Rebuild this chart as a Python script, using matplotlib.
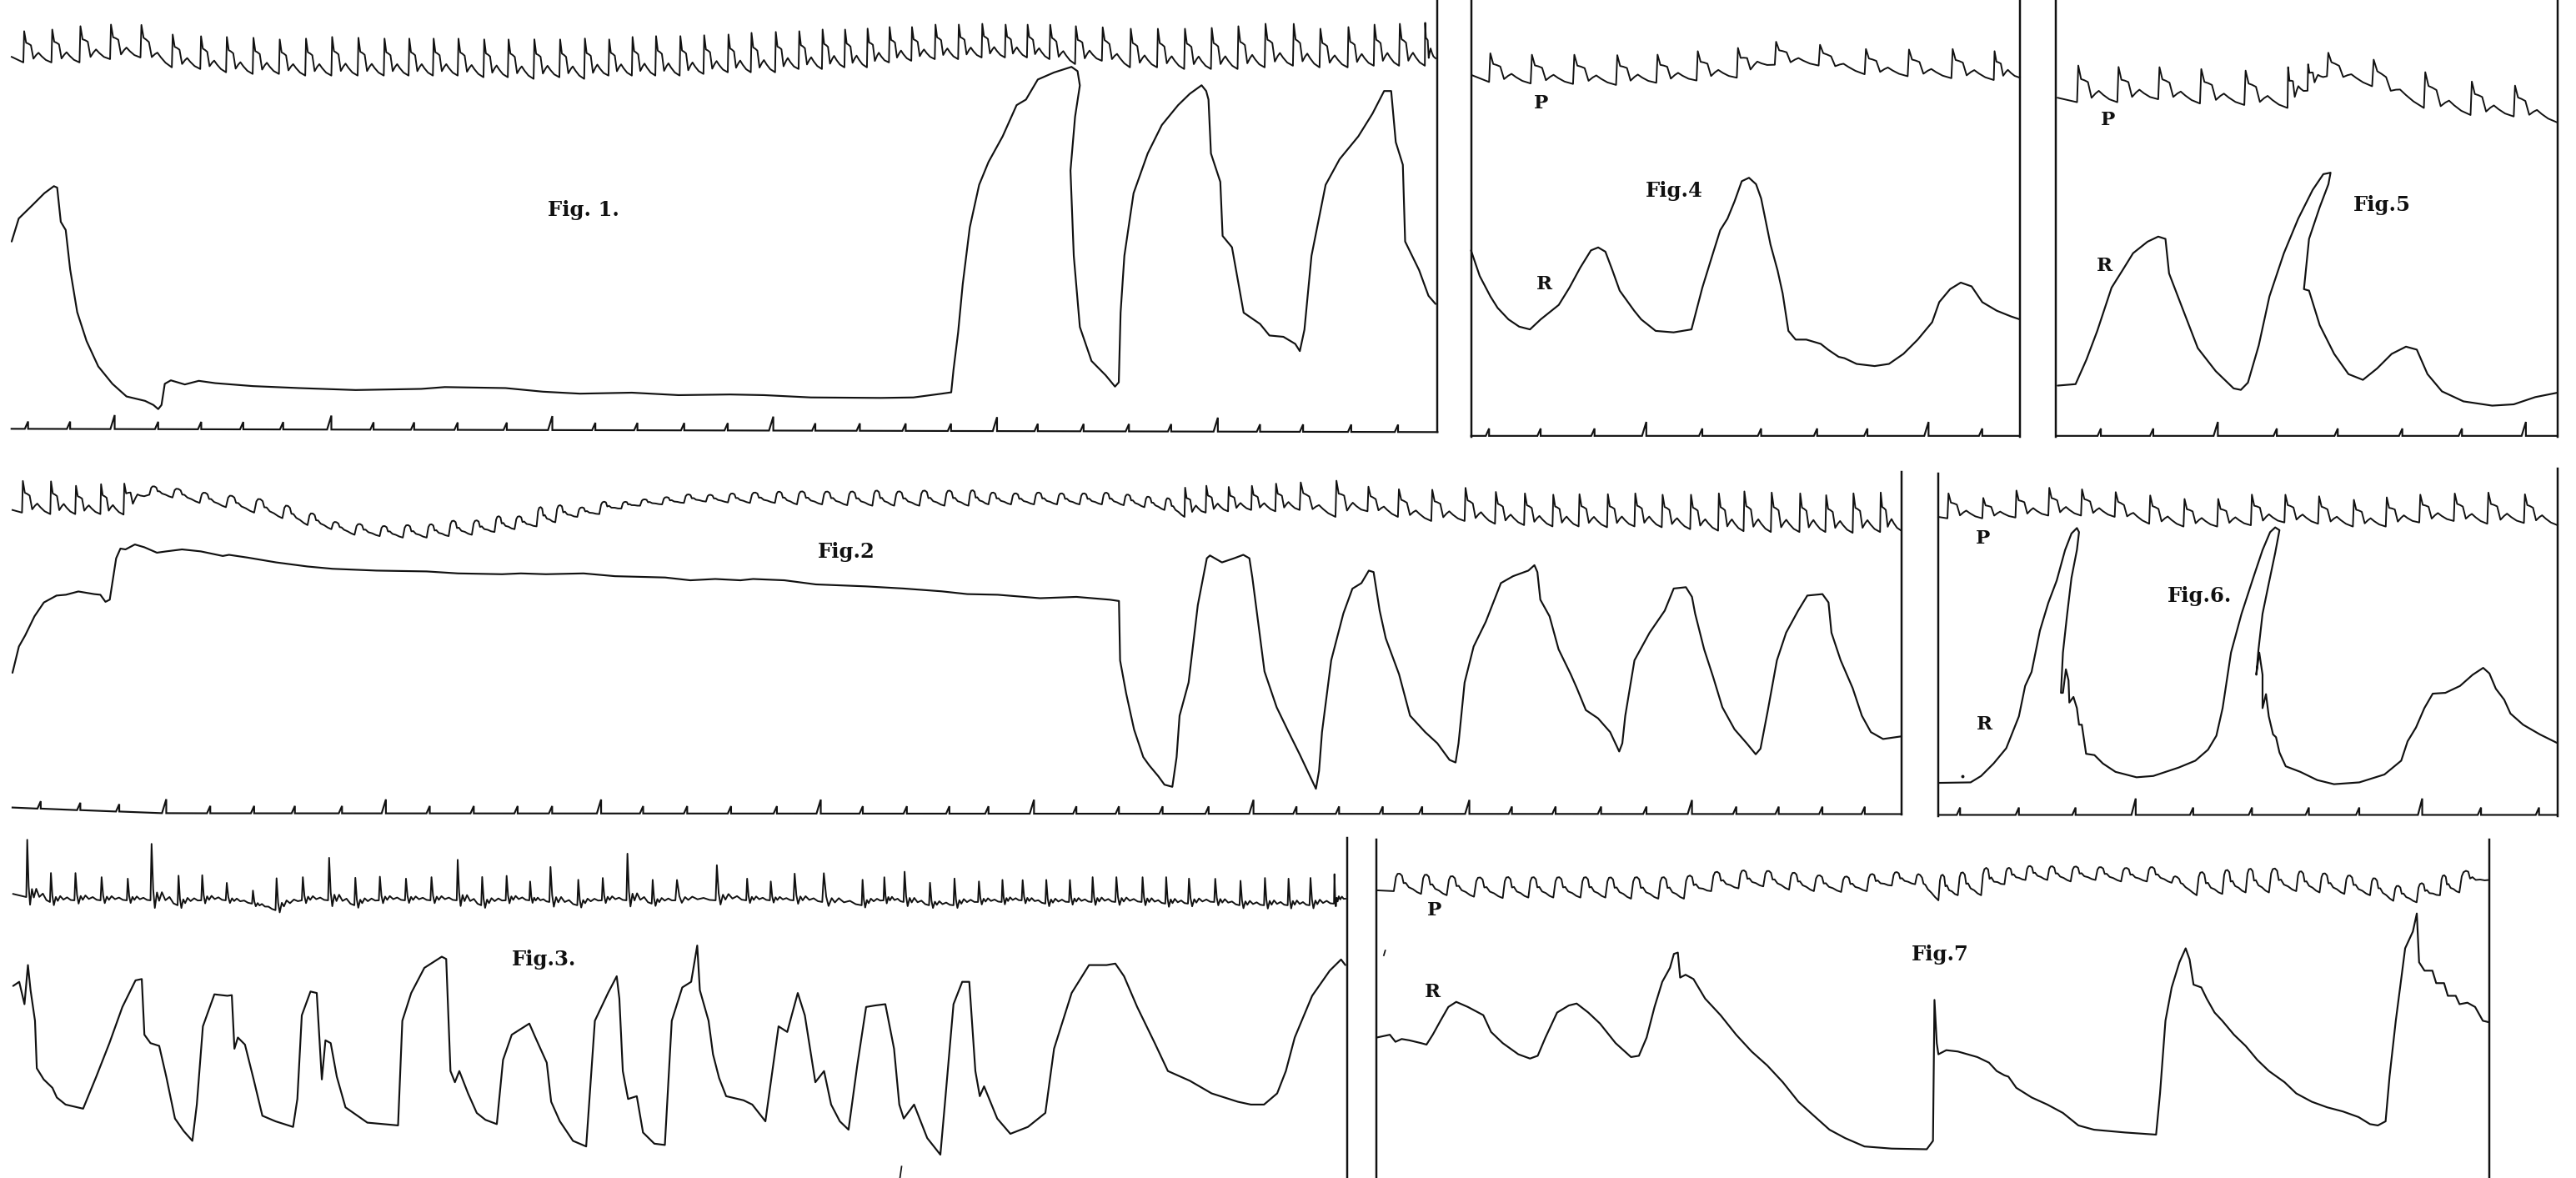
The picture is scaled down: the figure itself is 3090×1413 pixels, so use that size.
import numpy as np
import matplotlib
matplotlib.use("Agg")
import matplotlib.pyplot as plt

# ------------------------------------------------------------------
# DATA  (units: position on the plate, x to the right, y downward)
# ------------------------------------------------------------------
# ---- Fig. 1 ----
fig1_pulse_start = [7.1, 34.6]
fig1_pulse_end = [873.8, 35.5]
fig1_pulse_onsets = [14.2, 31.3, 48.4, 67, 85.5, 104.6, 121.9, 137.6, 153.8, 169.8,
                     185.8, 201.7, 217.7, 233.6, 248.7, 263.5, 278.6, 294.3, 309.1, 324.8,
                     340.5, 355.6, 370.4, 384.6, 398.9, 413.7, 428.2, 443.0, 457, 471.8,
                     486.1, 500.3, 514, 527.7, 541.1, 554.7, 569, 583.2, 597.5, 611.7,
                     625.1, 638.8, 654.4, 670.7, 687.8, 704.3, 720.8, 737.1, 753.3, 769.8,
                     787, 803.2, 820.3, 836.2, 851.6, 867.3]
fig1_pulse_troughs = [38, 38, 38, 36, 35, 41, 42, 44, 45, 45,
                      46, 46, 46, 46, 46, 46, 46, 47, 47, 48,
                      47, 48, 46, 46, 46, 46, 45, 44, 44, 44,
                      42, 42, 41, 41, 38, 37, 36, 36, 35, 35,
                      35, 36, 39, 37, 41, 41, 42, 42, 42, 41,
                      40, 41, 41, 40, 40, 40]
fig1_pulse_peaks = [19, 18, 16, 15, 15, 21, 22, 22.5, 23, 24,
                    23.5, 22.5, 23, 23.5, 23.5, 23.5, 23.5, 24, 24, 24,
                    24, 23.5, 24, 22.5, 22, 22, 21.5, 21, 20, 19.5,
                    19, 18, 18, 17.5, 16.5, 16.5, 15, 15, 14.5, 15,
                    15, 15, 16, 16.5, 17.5, 17.5, 17.5, 17, 16, 14.5,
                    14.5, 17.5, 16.5, 15, 14.5, 14]
fig1_resp = [(7.1, 147), (11.4, 133), (20, 124.6), (27, 117.6), (32.8, 113.3), (34.8, 114.2),
             (37, 135), (40, 140), (42.7, 164), (47, 190), (52.7, 207.6), (59.8, 223),
             (68.4, 233.6), (77, 241.3), (88.3, 244), (93.4, 246.5), (96.3, 249), (98.3, 246.5),
             (100.3, 233.6), (104, 231.5), (112.5, 234), (121, 231.8), (131, 233.2), (153.8, 235),
             (182, 236.2), (216.5, 237.4), (256.4, 236.7), (270.7, 235.6), (307.7, 236.2),
             (330.5, 238.4), (353, 239.6), (384.6, 239), (413, 240.5), (444.4, 240.1),
             (465, 240.5), (493.5, 241.9), (536.2, 242.2), (556, 241.9), (573.3, 239.6),
             (579, 238.8), (580.4, 225), (583.2, 202.4), (586, 173), (590.3, 138.4),
             (596, 112.5), (601.7, 98.6), (610.3, 83), (618.8, 64), (624.5, 60.6),
             (631.7, 48.4), (641.6, 44.1), (652.2, 40.7), (655.9, 43.3), (657.3, 52),
             (654.4, 71), (651.6, 103.8), (653.6, 155.7), (657.3, 199), (664.4, 219.7),
             (673, 228.4), (678.7, 235.3), (681, 232.7), (682.1, 190.3), (684.4, 155.7),
             (690, 117.6), (698.6, 93.4), (707.2, 76.1), (717.1, 64), (724.2, 57.1),
             (731.4, 51.9), (734.2, 55.4), (735.6, 60.6), (737.1, 93.4), (742.8, 110.7),
             (744.2, 143.6), (749.9, 150.5), (757, 190.3), (767, 197.2), (772.7, 204.2),
             (781.2, 205), (788.4, 209.3), (791.2, 213.7), (794, 200.7), (798.3, 155.7),
             (806.9, 112.5), (815.4, 96.9), (826.8, 83), (835.4, 69.2), (842.5, 55.4),
             (846.8, 55.4), (849.6, 86.5), (853.9, 100.3), (855.3, 147), (863.8, 164.4),
             (869.5, 180), (873.8, 185)]
fig1_time_ticks = [17.1, 42.7, 69.8, 96.3, 122.5, 148.1, 172.4, 201.7, 227.4, 252.1,
                   278.6, 308.5, 336.2, 362.4, 388, 416.5, 443, 470.7, 496.3, 523.4,
                   551.3, 578.9, 606.9, 631.7, 659.6, 687.2, 712.9, 741.3, 767, 793.2,
                   822.5, 851]
fig1_time_major = [69.8, 201.7, 336.2, 470.7, 606.9, 741.3]

# ---- Fig. 4 ----
fig4_pulse_start = [896.3, 45.9]
fig4_pulse_end = [1229.5, 47.3]
fig4_pulse_onsets = [906.4, 931.7, 957.5, 983.7, 1008.2, 1032.7, 1057.2, 1080.3, 1107, 1135,
                     1161.2, 1187.8, 1213.6]
fig4_pulse_troughs = [49.9, 50.8, 51.1, 51.7, 50.4, 49, 47.3, 39.4, 39.9, 45.2, 46.4, 47.6, 48.7]
fig4_pulse_peaks = [32.4, 33.3, 33.3, 33.6, 33.3, 31.2, 29.4, 25.4, 27.1, 29.8, 30.1, 29.8, 31.2]
fig4_resp = [(895.4, 152.4), (900.7, 168), (907.2, 180.4), (911.6, 187.4), (918.2, 194.4),
             (924.7, 198.8), (931.3, 200.5), (937.8, 194.4), (948.8, 185.6), (955.3, 175.1),
             (961.9, 162.9), (968.4, 152.4), (972.8, 150.6), (977.2, 153.2), (981.5, 164.6),
             (985.9, 176.9), (994.7, 189.1), (999, 194.4), (1007.8, 201.4), (1018.7, 202.3),
             (1029.6, 200.5), (1036.2, 175.1), (1042.7, 154.1), (1047.1, 140.1), (1051.5, 133.1),
             (1055.8, 122.6), (1060.2, 110.3), (1064.6, 108.2), (1068.9, 112.1), (1072, 120.8),
             (1077.7, 148.9), (1082, 164.6), (1085.1, 178.6), (1088.6, 201.4), (1093, 206.7),
             (1099.5, 206.7), (1108.3, 209.3), (1112.7, 212.8), (1119.2, 217.2), (1122.7, 218),
             (1130.1, 221.5), (1141.1, 222.8), (1149.8, 221.5), (1158.6, 215.4), (1167.3, 206.7),
             (1176.1, 196.1), (1180.4, 183.9), (1187, 176), (1193.5, 172), (1200.1, 174.3),
             (1206.6, 183.9), (1215.4, 189.1), (1224.1, 192.6), (1229.5, 194.4)]
fig4_time_ticks = [906.4, 937.8, 970.6, 1002.1, 1036.2, 1072, 1106.1, 1136.7, 1173.9, 1206.6]
fig4_time_major = [1002.1, 1173.9]

# ---- Fig. 5 ----
fig5_pulse_start = [1252.5, 59.5]
fig5_pulse_end = [1556.3, 74.4]
fig5_pulse_onsets = [1264.3, 1288.8, 1313.7, 1339.1, 1366.1, 1392.4, 1404.6, 1416.4, 1443.9,
                     1475.4, 1503.8, 1530.1]
fig5_pulse_troughs = [62.2, 62.2, 60.4, 63, 63.9, 65.7, 55.2, 46.4, 52.5, 65.7, 70, 70.9]
fig5_pulse_peaks = [39.9, 40.8, 40.8, 42, 42.9, 41.2, 39.4, 31.9, 35.9, 43.8, 49.6, 52]
fig5_resp = [(1252.5, 234.7), (1263.4, 233.8), (1270, 218.9), (1276.6, 201.4), (1285.3, 175.1),
             (1291.9, 164.6), (1298.4, 154.1), (1307.2, 147.1), (1313.7, 144), (1318.1, 145.4),
             (1320.3, 166.4), (1329, 189.1), (1337.8, 211.9), (1348.7, 225.9), (1359.6, 236.4),
             (1364, 237.3), (1368.3, 232.9), (1374.9, 210.2), (1381.4, 180.4), (1390.2, 154.1),
             (1398.9, 133.1), (1407.7, 115.6), (1414.2, 106), (1418.6, 105.1), (1417.3, 112.1),
             (1412, 126.1), (1405.5, 145.4), (1402.4, 176), (1405.5, 176.9), (1412, 197.9),
             (1420.8, 215.4), (1429.5, 227.7), (1438.3, 231.2), (1447, 224.2), (1455.8, 215.4),
             (1464.5, 211), (1471.1, 212.8), (1477.6, 227.7), (1486.4, 238.2), (1499.5, 244.3),
             (1517, 246.9), (1530.1, 246.1), (1543.2, 241.7), (1556.3, 239.1)]
fig5_time_ticks = [1278.8, 1310.7, 1350, 1385.9, 1423, 1462.3, 1498.6, 1537.5]
fig5_time_major = [1350, 1537.5]

# ---- Fig. 2 ----
fig2_pulse_start = [7.6, 310.4]
fig2_pulse_end = [1157.3, 323]
fig2_pulse_onsets = [13.4, 30.6, 45.8, 61.1, 75.2, 90.9, 105, 121.5, 137.5, 154.7,
                     171.9, 187.2, 201.7, 215.8, 231.1, 245.2, 259.7, 273.1, 287.2, 301,
                     313.2, 326.6, 338, 351.4, 364.8, 378.2, 389.6, 403, 416.3, 429.7,
                     443.1, 456.5, 471.7, 485.1, 500.4, 515.7, 531, 544.3, 559.6, 574.9,
                     589.5, 601.7, 615.4, 629.4, 643.4, 657.1, 670.7, 684, 696.6, 708.8,
                     721, 733.9, 747.5, 761.6, 776.3, 791.1, 812.9, 832.4, 850.9, 871.2,
                     891.5, 910, 927.7, 945, 960.9, 978.2, 994.9, 1011.5, 1028.8, 1045.8,
                     1061.3, 1077.9, 1095.3, 1111.1, 1127.7, 1144.4]
fig2_pulse_troughs = [312, 312.9, 312.9, 312.9, 313.2, 301.1, 302.8, 306.1, 308.7, 312,
                      315.4, 319.6, 322.1, 325.5, 326.3, 327.2, 327.2, 326.3, 325.5, 323.8,
                      322.1, 320.4, 317.9, 314.6, 312.9, 309.5, 307.8, 307, 306.1, 305.3,
                      305.8, 306.1, 306.1, 307, 307, 307.5, 307.8, 307.8, 307.8, 307.8,
                      307.8, 307, 307, 307, 307, 307, 307, 307.5, 308.7, 310.4,
                      314.6, 312, 311.2, 310.4, 311.2, 310.4, 314.6, 311.2, 314.6, 317.1,
                      317.1, 318.8, 319.6, 320.4, 320.4, 320.9, 320.4, 320.9, 322.1, 323,
                      323.3, 323.8, 323.8, 323.8, 324.3, 323.8]
fig2_pulse_peaks = [292.7, 293, 295.7, 294.7, 294.7, 295.7, 296.9, 299.4, 301.1, 303.1,
                    307, 312, 317.1, 318.8, 320, 319.6, 319.3, 317.1, 317.1, 314.6,
                    314.6, 309.2, 308.2, 309.2, 306.1, 305.8, 304.1, 302.8, 301.1, 301.1,
                    300.3, 299.8, 299.1, 299.1, 299.1, 299.1, 298.6, 299.1, 298.6, 298.6,
                    298.6, 299.8, 300.3, 299.8, 300.3, 300.3, 299.8, 300.8, 302, 302.5,
                    296.9, 295.7, 296.4, 295.7, 294.4, 293.5, 292.7, 296.1, 297.7, 298.1,
                    296.9, 299.4, 300.3, 301.1, 300.8, 300.8, 300.3, 301.1, 301.1, 300.3,
                    299.1, 299.8, 300.3, 301.4, 300.3, 299.8]
fig2_resp = [(7.6, 409.5), (11.5, 393.5), (15.3, 386.8), (21, 375.1), (26.7, 366.7), (34.4, 362.5),
             (40.1, 362), (47.7, 360), (57.3, 361.6), (61.1, 362), (64.2, 366.3), (66.8, 365),
             (70.7, 339.8), (73.3, 333.9), (76.4, 334.4), (82.1, 331.4), (87.9, 333.1), (95.5, 336.4),
             (101.2, 335.6), (110.8, 334.4), (122.2, 335.6), (135.6, 338.4), (139.4, 337.7),
             (150.9, 339.4), (168.1, 342.3), (187.2, 344.8), (202.4, 346.2), (229.2, 347.3),
             (259.7, 347.8), (278.8, 349), (305.6, 349.5), (317, 349), (332.3, 349.5), (355.2, 349),
             (374.3, 350.7), (404.9, 351.5), (420.2, 353.2), (435.4, 352.4), (450.7, 353.2),
             (458.4, 352.4), (477.5, 353.2), (496.6, 355.7), (527.1, 356.9), (550, 358.2),
             (573, 359.9), (588.8, 361.6), (607.3, 362), (633.1, 364.1), (655.2, 363.3),
             (675.5, 365), (681.1, 365.8), (681.8, 402), (685.5, 422.1), (690.3, 444),
             (695.9, 460.8), (699.5, 465.8), (705.1, 472.5), (708.8, 477.6), (713.6, 478.9),
             (716.2, 460.8), (718, 435.6), (723.5, 415.4), (729.1, 368.3), (734.6, 339.8),
             (736.5, 338.1), (743.8, 342.3), (751.2, 339.8), (756.8, 337.7), (760.5, 339.8),
             (762.3, 351.5), (769.7, 408.7), (777.1, 430.5), (784.4, 445.6), (791.1, 459.1),
             (797.4, 472.5), (801, 480.1), (802.9, 469.2), (804.7, 445.6), (810.3, 401.9),
             (817.7, 373.4), (823.2, 358.3), (828.7, 354.9), (833.2, 347.3), (836.1, 348.2),
             (839.8, 371.7), (843.5, 388.5), (851.6, 410.4), (858.3, 435.6), (867.5, 445.6),
             (874.9, 452.4), (882.3, 462.5), (886, 464.1), (887.8, 452.4), (891.5, 415.4),
             (897, 393.5), (904.4, 378.4), (913.6, 354.9), (921, 350.7), (930.3, 347.3),
             (934, 344), (935.8, 348.2), (937.6, 365), (943.2, 375.1), (948.7, 395.2),
             (956.1, 410.4), (959.8, 418.8), (965.3, 432.2), (972.7, 437.2), (980.1, 445.6),
             (985.6, 457.4), (987.5, 452.4), (989.3, 435.6), (994.9, 401.9), (1004.1, 385.1),
             (1013.3, 371.7), (1018.8, 358.2), (1026.2, 357.4), (1029.9, 363.3), (1031.8, 373.4),
             (1037.3, 395.2), (1042.8, 412.1), (1048.4, 430.5), (1055.8, 443.9), (1063.2, 452.4),
             (1068.7, 459.1), (1071.6, 455.7), (1076.1, 432.2), (1081.6, 401.9), (1087.2, 385.1),
             (1094.5, 371.7), (1100.1, 362.5), (1109.3, 361.6), (1113, 366.7), (1114.8, 385.1),
             (1120.4, 401.9), (1127.7, 418.8), (1133.3, 435.6), (1138.8, 445.6), (1146.2, 449.8),
             (1157.3, 448.2)]
fig2_time_base = [(7.6, 491.5), (60, 493.5), (103, 495), (1157, 495.5)]
fig2_time_ticks = [24.8, 48.9, 72.6, 101.2, 128, 154.7, 179.5, 208.2, 234.9, 261.6,
                   288.4, 315.1, 336.1, 365.9, 391.5, 418.3, 445, 472.9, 499.6, 525.2,
                   552, 577.9, 601.7, 629.4, 655.2, 681.1, 707.7, 735.7, 763, 789.2,
                   815.1, 841.7, 865.7, 894.4, 920.3, 946.9, 974.6, 1002.2, 1029.9, 1056.9,
                   1082.7, 1109.3, 1135.1]
fig2_time_major = [101.2, 234.9, 365.9, 499.6, 629.4, 763, 894.4, 1029.9]

# ---- Fig. 6 ----
fig6_pulse_start = [1179.8, 314.6]
fig6_pulse_end = [1556.8, 319.7]
fig6_pulse_onsets = [1185.4, 1206.6, 1226.8, 1246.8, 1266.7, 1287.2, 1308.2, 1329.1, 1349.6,
                     1370.1, 1390.5, 1411, 1432.2, 1452.2, 1472.6, 1493.6, 1514, 1536.3]
fig6_pulse_troughs = [315.5, 315.5, 315, 313.8, 313.8, 314.6, 318.8, 320.5, 320.5, 319.7,
                      318, 318.8, 320.5, 320.5, 318, 317.1, 318.8, 318.3]
fig6_pulse_peaks = [300.3, 303.1, 298.6, 296.9, 297.8, 299.4, 301.5, 303.7, 303.7, 301.1,
                    301.1, 302, 304.2, 302.8, 301.1, 300.3, 299.8, 300.8]
fig6_resp = [(1180.3, 476.5), (1199.5, 476.2), (1205.9, 472.3), (1213.5, 464.7), (1221.2, 455.4),
             (1228.9, 436), (1232.7, 417.5), (1236.6, 409), (1241.7, 383.8), (1246.8, 366.9),
             (1251.9, 353.4), (1257, 334.8), (1260.9, 324.7), (1264.2, 321.4), (1265.5, 323.9),
             (1264.2, 334.8), (1260.9, 351.7), (1258.3, 373.6), (1255.7, 397.2), (1254.5, 421.7),
             (1255.7, 421.7), (1257.5, 407.4), (1259.1, 414.1), (1259.6, 427.6), (1262.1, 424.2),
             (1264.2, 431), (1265.5, 441.1), (1267.2, 441.1), (1269.8, 458.8), (1274.9, 459.6),
             (1280, 464.7), (1287.7, 469.8), (1300.5, 473.1), (1310.7, 472.3), (1326.1, 467.2),
             (1336.3, 463), (1344, 456.3), (1349.1, 447.8), (1352.9, 431), (1358, 397.2),
             (1364.4, 373.6), (1372.1, 350), (1377.2, 334.8), (1381.8, 323.9), (1384.9, 321),
             (1387.5, 322.7), (1384.9, 336.5), (1381, 355.1), (1377.2, 373.6), (1374.7, 395.6),
             (1373.4, 410.7), (1375.2, 397.2), (1377.2, 410.7), (1377.2, 431), (1379.3, 422.5),
             (1381, 436), (1383.6, 447), (1385.4, 448.7), (1387.5, 458), (1391.3, 466.4),
             (1400.2, 469.8), (1410.5, 474.8), (1420.7, 477.3), (1436.1, 476.2), (1451.4, 471.4),
             (1461.6, 463), (1465.5, 451.2), (1470.6, 442.8), (1475.7, 431), (1480.8, 422.2),
             (1488.5, 421.7), (1497.4, 417.5), (1505.1, 410.7), (1511.5, 406.5), (1515.3, 409.9),
             (1519.2, 419.2), (1524.3, 425.9), (1528.1, 434.3), (1535.8, 441.1), (1546, 447),
             (1556.3, 452.1)]
fig6_time_ticks = [1193.1, 1228.9, 1263.4, 1300, 1335, 1370.8, 1405.4, 1436.1, 1474.4, 1510.2,
                   1545.5]
fig6_time_major = [1300, 1474.4]

# ---- Fig. 3 ----
fig3_pulse_start = [8, 544.1]
fig3_pulse_end = [818.9, 547]
fig3_pulse_onsets = [16, 30.4, 45.3, 61.2, 77.2, 91.6, 108.1, 122.5, 137.4, 153.4,
                     167.7, 183.7, 199.7, 215.7, 230.6, 246.5, 262, 278, 292.9, 307.8,
                     322.2, 334.4, 351.4, 366.3, 381.3, 396.7, 411.1, 435.6, 454.2, 468.6,
                     483, 500.5, 524.5, 537.8, 550, 565.5, 580.4, 595.3, 609.7, 621.9,
                     636.3, 650.7, 664.5, 678.9, 694.9, 709.3, 723.1, 739.1, 754.5, 769.4,
                     783.8, 797.1, 812]
fig3_pulse_troughs = [546, 549, 548, 548, 548, 548, 551, 548, 548, 550,
                      554, 548, 548, 551, 548, 548, 548, 548, 551, 548,
                      548, 549, 551, 548, 548, 550, 548, 548, 548, 548,
                      548, 549, 551, 548, 549, 551, 551, 549, 549, 548,
                      550, 549, 549, 549, 549, 550, 550, 549, 551, 551,
                      551, 551, 550]
fig3_pulse_peaks = [511, 531.4, 531.4, 533.9, 534.8, 513.5, 533.1, 532.7, 537.3, 541.9,
                    534.8, 533.9, 522, 534.4, 533.6, 534.8, 533.9, 523.2, 533.9, 533.1,
                    536.5, 527.6, 535.6, 534.4, 519.5, 535.6, 535.6, 526.6, 534.8, 536.5,
                    531.7, 531.4, 535.6, 533.9, 530.5, 537.3, 534.8, 536.5, 535.6, 535.6,
                    535.6, 535.6, 533.9, 533.9, 533.9, 533.9, 534.8, 534.8, 536.1, 534.4,
                    534.8, 534.4, 532.2]
fig3_resp = [(8, 600.1), (11.7, 597.6), (14.9, 611.2), (17, 587.4), (18.6, 602.7), (21.3, 621.3),
             (22.4, 650.2), (26.6, 657), (31.9, 662.1), (34.6, 668), (39.9, 672.3), (50.6, 674.8),
             (58.6, 655.3), (66.6, 634.9), (74.5, 612.9), (82.5, 596.7), (86.3, 595.9),
             (87.9, 629.8), (91.6, 634.9), (96.9, 636.6), (101.2, 655.3), (106.5, 680.8),
             (111.8, 688.4), (117.1, 694.4), (119.8, 672.3), (123.5, 624.7), (130.5, 605.2),
             (138.4, 606.1), (141.1, 605.7), (142.7, 638.3), (144.8, 631.5), (149.1, 635.8),
             (154.4, 657), (159.7, 679.1), (167.7, 682.5), (178.4, 685.9), (181, 668.9),
             (183.7, 618), (189, 603.5), (192.8, 604.4), (195.9, 657), (198.1, 633.2),
             (201.3, 634.9), (205, 655.3), (210.3, 674), (223.6, 683.3), (242.3, 685),
             (244.9, 621.3), (250.3, 604.4), (258.3, 589.1), (268.9, 582.3), (271.6, 583.7),
             (274.2, 651.9), (276.9, 658.7), (279.6, 651.9), (284.9, 665.5), (290.2, 677.4),
             (295.5, 681.6), (302.4, 684.2), (306.2, 645.1), (311.5, 629.8), (322.2, 623),
             (325.9, 631.5), (332.8, 646.8), (335.5, 670.6), (340.8, 682.5), (348.8, 694.4),
             (356.8, 697.8), (362.1, 621.3), (370.1, 604.4), (375.4, 594.2), (377, 607.8),
             (379.1, 651.9), (382.3, 668.9), (387.6, 667.2), (391.4, 689.3), (398.3, 696.1),
             (404.7, 696.9), (408.9, 621.3), (415.3, 601), (420.7, 597.6), (424.4, 575.5),
             (426, 602.7), (431.3, 621.3), (434, 641.7), (437.7, 656.1), (442, 667.2),
             (452.6, 669.7), (457.9, 672.3), (465.9, 682.5), (473.9, 624.7), (479.2, 628.1),
             (481.9, 618), (485.6, 604.4), (489.9, 618), (496.3, 658.7), (501.6, 651.9),
             (505.9, 672.3), (511.2, 682.5), (516.5, 687.6), (521.8, 648.5), (527.2, 612.9),
             (532.5, 612), (538.9, 611.2), (544.2, 638.3), (547.4, 672.3), (550.1, 680.8),
             (556.4, 672.3), (564.4, 692.7), (572.4, 702.8), (575.1, 672.3), (580.4, 611.2),
             (585.7, 597.6), (590, 597.6), (593.7, 651.9), (596.4, 667.2), (599, 661.2),
             (607, 680.8), (615, 690.1), (625.7, 685.9), (636.3, 677.4), (641.6, 638.3),
             (652.3, 604.4), (662.9, 587.4), (673.6, 587.4), (678.9, 586.5), (684.2, 594.2),
             (692.2, 612.9), (702.9, 634.9), (710.9, 651.9), (724.2, 657.8), (737.5, 665.5),
             (753.5, 670.6), (761.4, 672.3), (769.4, 672.3), (777.4, 665.5), (782.7, 651.9),
             (788.1, 631.5), (798.7, 606.1), (809.4, 590.8), (816.3, 584), (818.9, 587.4)]

# ---- Fig. 7 ----
fig7_pulse_start = [838, 541.9]
fig7_pulse_end = [1515.1, 535.6]
fig7_pulse_onsets = [848.4, 865, 880.6, 897.2, 914.7, 930.3, 945.5, 962, 977.2, 992.8,
                     1009.4, 1025, 1041.6, 1058.2, 1073.3, 1089, 1104.1, 1120.7, 1136.3, 1151.5,
                     1165.7, 1179.9, 1191.7, 1205.9, 1220.1, 1232.9, 1246.2, 1260.4, 1275.5, 1291.1,
                     1306.8, 1321.9, 1337.1, 1352.7, 1366.9, 1381.1, 1397.7, 1411.9, 1427, 1442.6,
                     1456.8, 1471, 1485.2, 1497]
fig7_pulse_troughs = [542.4, 544.1, 544.9, 545.8, 546.6, 546.3, 546.3, 546.3, 546.3, 547,
                      547, 547, 542.4, 540.7, 539.5, 541.5, 542.4, 542.9, 542.4, 539,
                      538.2, 548, 544.9, 544.9, 538.2, 535.6, 535.6, 536.5, 535.6, 536.5,
                      536.5, 537.3, 544.9, 544.1, 543.2, 543.2, 542.4, 543.2, 544.1, 544.9,
                      548.3, 549.2, 544.9, 543.2]
fig7_pulse_peaks = [531.4, 532.2, 533.1, 533.9, 533.9, 533.9, 533.9, 533.9, 533.9, 533.9,
                    533.9, 533.9, 531, 530, 529.7, 531, 532.7, 533.6, 532.7, 531,
                    530.5, 533.1, 531, 529.7, 528.8, 527.1, 527.1, 527.6, 527.6, 528.3,
                    527.6, 532.2, 531, 529.7, 528.8, 528.8, 530.2, 531.4, 532.7, 533.9,
                    539, 538.5, 533.1, 531.7]
fig7_resp = [(838, 631.5), (846, 629.8), (849.4, 634.1), (853.2, 632.4), (857.9, 633.2),
             (865, 634.9), (868.3, 635.8), (872.1, 629.8), (876.8, 621.3), (881.6, 612.9),
             (886.4, 609.8), (893.5, 612.9), (902.9, 617.9), (907.6, 628.1), (914.7, 634.9),
             (924.2, 641.7), (931.3, 644.3), (936, 642.6), (940.7, 631.5), (947.8, 616.3),
             (954.9, 612), (959.7, 610.8), (966.8, 616.3), (973.9, 623), (983.4, 634.9),
             (992.8, 643.4), (997.6, 642.6), (1002.3, 631.5), (1007.1, 612.9), (1011.8, 597.6),
             (1016.5, 589.1), (1018.9, 580.6), (1021.3, 579.8), (1022.7, 595), (1026, 593.3),
             (1030.8, 595.9), (1037.9, 607.8), (1047.3, 617.9), (1056.8, 629.8), (1066.2, 640),
             (1075.7, 648.5), (1085.2, 658.7), (1094.7, 670.6), (1104.1, 679.1), (1113.6, 687.6),
             (1123.1, 692.7), (1134.9, 697.8), (1151.5, 699.1), (1172.8, 699.5), (1176.6, 694.4),
             (1177.5, 608.6), (1178.9, 634.9), (1179.9, 641.7), (1184.7, 639.2), (1191.7, 640),
             (1203.6, 643.4), (1210.7, 646.8), (1215.4, 651.9), (1220.1, 654.5), (1222.5, 655.3),
             (1227.3, 662.1), (1236.7, 668), (1246.2, 672.3), (1255.7, 677.4), (1265.1, 685),
             (1274.6, 687.6), (1293.5, 689.3), (1312.4, 690.6), (1314.8, 665.5), (1318.1, 621.3),
             (1321.9, 601), (1326.6, 585.7), (1330.4, 577.2), (1332.8, 584), (1335.2, 599.3),
             (1339.9, 601), (1343.2, 607.8), (1348, 616.3), (1352.7, 621.3), (1359.8, 629.8),
             (1366.9, 636.6), (1374, 645.1), (1381.1, 651.9), (1390.6, 658.7), (1397.7, 665.5),
             (1407.2, 670.6), (1416.6, 674), (1426.1, 676.5), (1435.6, 679.9), (1442.6, 684.2),
             (1447.4, 685), (1452.1, 682.5), (1454.5, 655.3), (1458.3, 621.3), (1461.6, 595.9),
             (1464, 577.2), (1468.7, 567), (1471.1, 556), (1472.5, 585.7), (1475.8, 590.8),
             (1480.6, 590.8), (1482.9, 598.4), (1487.7, 598.4), (1490, 606.1), (1494.8, 606.1),
             (1497.1, 611.2), (1501.9, 610.3), (1506.6, 612.9), (1511.3, 621.3), (1515.1, 622.2)]

# ---- frame lines, labels ----
frame_lines = {  # x, y_top, y_bottom
    "fig1_right": (875, 0, 263),
    "fig4_left": (895.5, 0, 266), "fig4_right": (1229.5, 0, 266),
    "fig5_left": (1251.5, 0, 266), "fig5_right": (1556.8, 0, 266),
    "fig2_right": (1157.5, 287, 496),
    "fig6_left": (1180, 288, 497), "fig6_right": (1556.8, 285, 497),
    "fig3_right": (820, 510, 717),
    "fig7_left": (838, 511, 717), "fig7_right": (1515.2, 511, 717),
}
fig_titles = [("Fig. 1.", 355, 128), ("Fig.4", 1019, 116), ("Fig.5", 1450, 125),
              ("Fig.2", 515, 336), ("Fig.6.", 1339, 363), ("Fig.3.", 331, 584),
              ("Fig.7", 1181, 581)]
trace_letters = [("P", 938, 63), ("R", 940, 173), ("P", 1283, 73), ("R", 1281, 162),
                 ("P", 1207, 328), ("R", 1208, 441), ("P", 873, 554), ("R", 872, 604)]

# ------------------------------------------------------------------
# DRAWING
# ------------------------------------------------------------------
INK = "#111111"
LW = 1.55

# beat templates (fraction of the beat period, fraction of the beat height)
SHAPES = {
    "sharp": ([0, .03, .10, .18, .27, .36, .46, .54, .65, .80, 1.0],
              [0, 1.0, .63, .60, .55, .12, .24, .31, .20, .08, 0]),
    "spike": ([0, .04, .10, .16, .24, .32, .42, .55, .70, .85, 1.0],
              [0, 1.0, .20, -.12, .16, .02, .18, .05, .12, .02, 0]),
    "round": ([0, .08, .14, .22, .30, .36, .44, .55, .70, .85, 1.0],
              [0, .80, .98, 1.0, .90, .50, .52, .30, .22, .08, 0]),
}


def pulse_path(start, end, onsets, troughs, peaks, kinds):
    xs, ys = [start[0]], [start[1]]
    n = min(len(onsets), len(troughs), len(peaks))
    for i in range(n):
        x0 = onsets[i]
        x1 = onsets[i + 1] if i + 1 < n else end[0]
        b0 = troughs[i]
        b1 = troughs[i + 1] if i + 1 < n else end[1]
        amp = b0 - peaks[i]
        tt, ss = SHAPES[kinds[i] if isinstance(kinds, list) else kinds]
        for t, s in zip(tt, ss):
            xs.append(x0 + t * (x1 - x0))
            ys.append(b0 + (b1 - b0) * t - amp * s)
    return xs, ys


def draw_time(ax, x_start, x_end, base, ticks, majors, small_h=4.5, big_h=8.5):
    bx = [p[0] for p in base]
    by = [p[1] for p in base]
    xs, ys = [x_start], [float(np.interp(x_start, bx, by))]
    for x in ticks:
        y = float(np.interp(x, bx, by))
        h = big_h if x in majors else small_h
        w = 2.6 if x in majors else 2.0
        xs += [x - w, x, x]
        ys += [y, y - h, y]
    xs.append(x_end)
    ys.append(float(np.interp(x_end, bx, by)))
    ax.plot(xs, ys, color=INK, lw=LW, solid_joinstyle="miter")


def draw_curve(ax, pts, lw=LW):
    ax.plot([p[0] for p in pts], [p[1] for p in pts], color=INK, lw=lw,
            solid_joinstyle="round", solid_capstyle="round")


fig = plt.figure(figsize=(30.9, 14.13), dpi=100)
ax = fig.add_axes([0, 0, 1, 1])
ax.set_xlim(0, 1568)
ax.set_ylim(717, 0)
ax.axis("off")

# pulse tracings
for args, kind in [
    ((fig1_pulse_start, fig1_pulse_end, fig1_pulse_onsets, fig1_pulse_troughs, fig1_pulse_peaks), "sharp"),
    ((fig4_pulse_start, fig4_pulse_end, fig4_pulse_onsets, fig4_pulse_troughs, fig4_pulse_peaks), "sharp"),
    ((fig5_pulse_start, fig5_pulse_end, fig5_pulse_onsets, fig5_pulse_troughs, fig5_pulse_peaks), "sharp"),
    ((fig6_pulse_start, fig6_pulse_end, fig6_pulse_onsets, fig6_pulse_troughs, fig6_pulse_peaks), "sharp"),
    ((fig3_pulse_start, fig3_pulse_end, fig3_pulse_onsets, fig3_pulse_troughs, fig3_pulse_peaks), "spike"),
    ((fig7_pulse_start, fig7_pulse_end, fig7_pulse_onsets, fig7_pulse_troughs, fig7_pulse_peaks), "round"),
]:
    xs, ys = pulse_path(*args, kind)
    ax.plot(xs, ys, color=INK, lw=LW * 0.9, solid_joinstyle="round")

n2 = len(fig2_pulse_onsets)
fig2_kinds = ["sharp"] * 5 + ["round"] * 45 + ["sharp"] * (n2 - 50)
xs, ys = pulse_path(fig2_pulse_start, fig2_pulse_end, fig2_pulse_onsets,
                    fig2_pulse_troughs, fig2_pulse_peaks, fig2_kinds)
ax.plot(xs, ys, color=INK, lw=LW * 0.9, solid_joinstyle="round")

# respiration tracings
for pts in [fig1_resp, fig4_resp, fig5_resp, fig2_resp, fig6_resp, fig3_resp, fig7_resp]:
    draw_curve(ax, pts)

# time tracings
draw_time(ax, 7, 875, [(7, 261), (875, 263)], fig1_time_ticks, fig1_time_major)
draw_time(ax, 895.5, 1229.5, [(895.5, 265.3), (1229.5, 265.3)], fig4_time_ticks, fig4_time_major)
draw_time(ax, 1251.5, 1556.8, [(1251.5, 265.3), (1556.8, 265.3)], fig5_time_ticks, fig5_time_major)
draw_time(ax, 7.6, 1157.5, fig2_time_base, fig2_time_ticks, fig2_time_major)
draw_time(ax, 1180, 1556.8, [(1180, 496), (1556.8, 496)], fig6_time_ticks, fig6_time_major,
          small_h=4.5, big_h=10)

# frame lines
for x, y0, y1 in frame_lines.values():
    ax.plot([x, x], [y0, y1], color=INK, lw=LW * 1.15)

# stray marks of the plate
ax.plot([1194.4], [472.3], marker="o", ms=1.8, color=INK)
ax.plot([547.8, 548.8], [717, 710], color=INK, lw=LW * 0.8)
ax.plot([842.3, 843.2], [581.5, 578.5], color=INK, lw=LW * 0.8)

for txt, x, y in fig_titles:
    ax.text(x, y, txt, ha="center", va="center", fontsize=17.5, color=INK,
            family="DejaVu Serif", fontweight="bold")
for txt, x, y in trace_letters:
    ax.text(x, y, txt, ha="center", va="center", fontsize=16.5, color=INK,
            family="DejaVu Serif", fontweight="bold")

fig.savefig("out.png", dpi=100, facecolor="white")
